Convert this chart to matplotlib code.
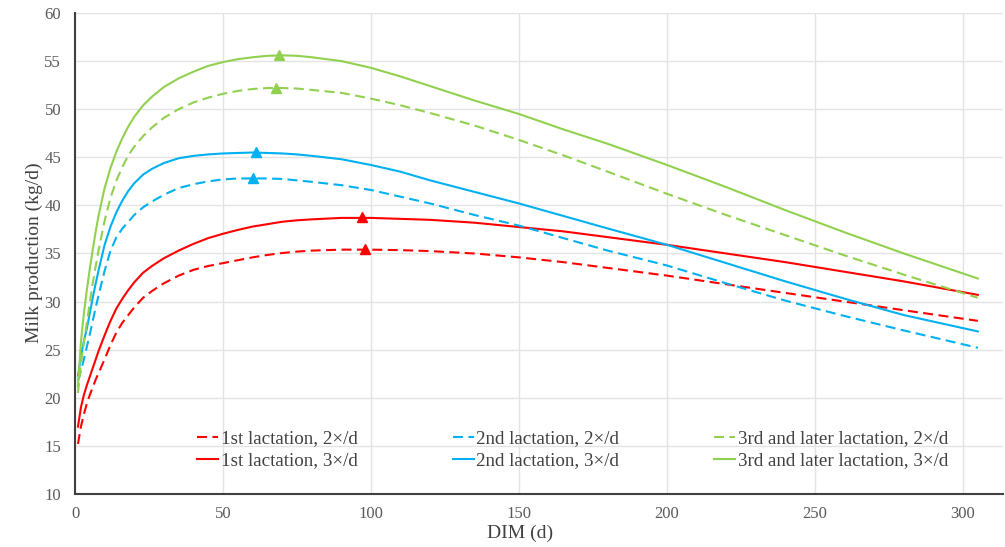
import matplotlib
matplotlib.use("Agg")
import matplotlib.pyplot as plt
from matplotlib.lines import Line2D

# ---- data ----
days = [1, 2, 3, 4, 5, 6, 7, 8, 10, 12, 14, 16, 18, 20, 23, 26, 30, 35, 40, 45,
        50, 55, 60, 65, 70, 75, 80, 90, 100, 110, 120, 135, 150, 165, 180, 200,
        220, 240, 260, 280, 305]

first_2x = [15.2, 17.0, 18.3, 19.4, 20.3, 21.1, 21.9, 22.6, 24.0, 25.5, 26.8, 27.8,
            28.6, 29.4, 30.4, 31.1, 31.9, 32.7, 33.3, 33.7, 34.0, 34.3, 34.6, 34.85,
            35.05, 35.2, 35.3, 35.4, 35.4, 35.35, 35.25, 35.0, 34.6, 34.1, 33.5,
            32.7, 31.8, 30.9, 30.0, 29.1, 28.0]
first_3x = [17.0, 19.0, 20.3, 21.3, 22.2, 23.1, 24.0, 24.9, 26.5, 28.0, 29.3, 30.3,
            31.2, 32.0, 33.0, 33.7, 34.5, 35.3, 36.0, 36.6, 37.05, 37.45, 37.8, 38.05,
            38.3, 38.45, 38.55, 38.7, 38.7, 38.6, 38.5, 38.2, 37.75, 37.3, 36.7,
            35.9, 35.0, 34.1, 33.1, 32.1, 30.7]
second_2x = [21.8, 22.8, 24.0, 25.3, 26.6, 28.0, 29.4, 30.7, 33.2, 35.3, 36.7, 37.6,
             38.3, 39.0, 39.8, 40.4, 41.1, 41.8, 42.2, 42.5, 42.7, 42.8, 42.8, 42.8,
             42.75, 42.6, 42.45, 42.1, 41.6, 40.9, 40.2, 39.0, 37.9, 36.6, 35.3,
             33.75, 31.9, 30.1, 28.5, 27.0, 25.2]
second_3x = [22.3, 24.3, 25.9, 27.2, 28.8, 30.4, 31.9, 33.3, 35.9, 37.8, 39.3, 40.5,
             41.5, 42.3, 43.2, 43.8, 44.4, 44.9, 45.15, 45.3, 45.4, 45.45, 45.5, 45.45,
             45.4, 45.3, 45.15, 44.8, 44.2, 43.5, 42.6, 41.4, 40.2, 38.9, 37.6,
             35.9, 34.0, 32.1, 30.3, 28.6, 26.9]
third_2x = [20.5, 23.5, 25.8, 27.8, 29.9, 31.9, 33.7, 35.4, 38.4, 40.8, 42.6, 44.0,
            45.2, 46.1, 47.2, 48.1, 49.1, 50.0, 50.7, 51.2, 51.6, 51.9, 52.1, 52.2,
            52.2, 52.15, 52.0, 51.7, 51.1, 50.4, 49.6, 48.3, 46.8, 45.2, 43.5,
            41.2, 39.0, 36.9, 34.8, 32.8, 30.4]
third_3x = [21.2, 25.8, 28.8, 31.2, 33.4, 35.4, 37.3, 39.0, 41.8, 43.9, 45.6, 47.0,
            48.2, 49.2, 50.4, 51.3, 52.3, 53.2, 53.9, 54.5, 54.9, 55.2, 55.4, 55.55,
            55.6, 55.55, 55.4, 55.0, 54.3, 53.4, 52.4, 50.9, 49.5, 47.9, 46.4,
            44.2, 41.9, 39.5, 37.2, 35.0, 32.4]

# peak days / peak yields (triangle markers)
peak_days = [98, 97, 60, 61, 68, 69]
peak_vals = [35.5, 38.8, 42.8, 45.5, 52.2, 55.6]

labels = ["1st lactation, 2×/d", "1st lactation, 3×/d",
          "2nd lactation, 2×/d", "2nd lactation, 3×/d",
          "3rd and later lactation, 2×/d", "3rd and later lactation, 3×/d"]

RED, BLUE, GREEN = "#FF0000", "#00B0F0", "#92D050"
series = [first_2x, first_3x, second_2x, second_3x, third_2x, third_3x]
colors = [RED, RED, BLUE, BLUE, GREEN, GREEN]
dashed = [True, False, True, False, True, False]

plt.rcParams["font.family"] = ["Liberation Serif", "DejaVu Serif"]

W, H = 1005, 547
fig = plt.figure(figsize=(W / 100, H / 100), dpi=100)
ax = fig.add_axes([75 / W, 1 - 494 / H, (1003 - 75) / W, (494 - 13) / H])

handles = []
for ys, c, d, lab, pd, pv in zip(series, colors, dashed, labels, peak_days, peak_vals):
    ls = (0, (4.8, 2.6)) if d else "-"
    ax.plot(days, ys, color=c, lw=1.5, linestyle=ls, zorder=3,
            solid_joinstyle="round", dash_joinstyle="round")
    ax.plot([pd], [pv], marker="^", color=c, markersize=7, linestyle="none", zorder=4)
    handles.append(Line2D([0], [0], color=c, lw=1.5, linestyle=ls, label=lab))

ax.set_xlim(0, 313.5)
ax.set_ylim(10, 60)
ax.set_xticks(range(0, 301, 50))
ax.set_yticks(range(10, 61, 5))
ax.grid(True, color="#E3E3E3", lw=1.0, zorder=0)
ax.set_axisbelow(True)
for s in ["top", "right"]:
    ax.spines[s].set_visible(False)
for s in ["left", "bottom"]:
    ax.spines[s].set_color("#404040")
    ax.spines[s].set_linewidth(1.5)
ax.tick_params(axis="both", length=0, labelsize=12, colors="#595959")
ax.tick_params(axis="x", pad=9)
ax.tick_params(axis="y", pad=10)

fig.text(520 / W, 1 - 533 / H, "DIM (d)", fontsize=14, color="#404040",
         ha="center", va="center")
fig.text(34 / W, 1 - 253 / H, "Milk production (kg/d)", fontsize=14, color="#404040",
         ha="center", va="center", rotation=90)

leg = ax.legend(handles=handles, ncol=3, loc="upper left",
                bbox_to_anchor=((197 - 75) / 928, (494 - 430) / 481),
                frameon=False, fontsize=13.7, handlelength=1.1, handletextpad=0.15,
                columnspacing=5.0, labelspacing=0.24, borderpad=0, borderaxespad=0)
for t in leg.get_texts():
    t.set_color("#404040")

fig.savefig("out.png", dpi=100)
